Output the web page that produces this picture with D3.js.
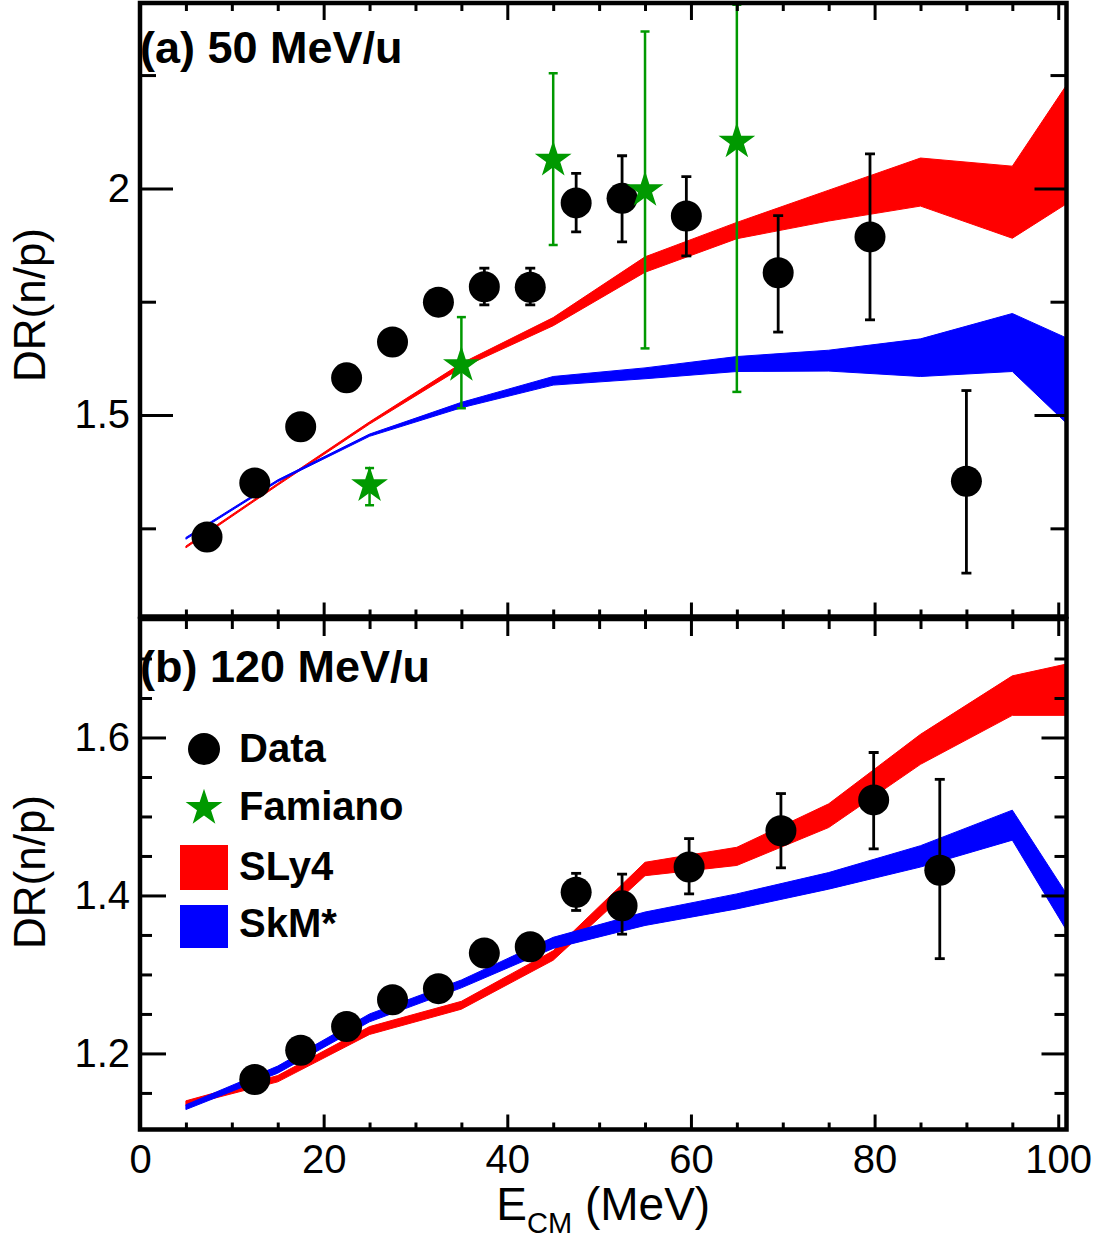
<!DOCTYPE html>
<html><head><meta charset="utf-8">
<script src="https://cdn.jsdelivr.net/npm/d3@7"></script>
<style>
body{margin:0;background:#fff;}
svg{display:block;font-family:"Liberation Sans",Arial,Helvetica,sans-serif;}
</style></head><body>
<svg id="chart" width="1104" height="1239"></svg>
<script>
// ---------- tick values ----------
const xMajorTicks = [0, 20, 40, 60, 80, 100];
const xMinorTicks = [5, 10, 15, 25, 30, 35, 45, 50, 55, 65, 70, 75, 85, 90, 95];
const yMajorTicksA = [1.5, 2];
const yMinorTicksA = [1.25, 1.75, 2.25];
const yMajorTicksB = [1.2, 1.4, 1.6];
const yMinorTicksB = [1.15, 1.25, 1.3, 1.35, 1.45, 1.5, 1.55, 1.65, 1.7];

// ---------- panel (a) 50 MeV/u ----------
const dataA_E   = [7.3, 12.5, 17.5, 22.5, 27.5, 32.5, 37.5, 42.5, 47.5, 52.5, 59.5, 69.5, 79.5, 90];
const dataA_DR  = [1.231, 1.350, 1.474, 1.582, 1.661, 1.749, 1.783, 1.782, 1.968, 1.978, 1.939, 1.814, 1.893, 1.354];
const dataA_lo  = [null, null, null, null, null, null, 1.743, 1.743, 1.904, 1.882, 1.851, 1.683, 1.710, 1.151];
const dataA_hi  = [null, null, null, null, null, null, 1.824, 1.824, 2.033, 2.072, 2.026, 1.940, 2.076, 1.554];

const famA_E  = [25, 35, 45, 55, 65];
const famA_DR = [1.345, 1.610, 2.063, 1.996, 2.103];
const famA_lo = [1.301, 1.515, 1.875, 1.647, 1.551];
const famA_hi = [1.383, 1.716, 2.254, 2.346, 2.405];

const bandE = [5, 15, 25, 35, 45, 55, 65, 75, 85, 95, 100.9];
const sly4A_lo = [1.207, 1.345, 1.480, 1.604, 1.697, 1.815, 1.889, 1.928, 1.961, 1.890, 1.966];
const sly4A_hi = [1.211, 1.349, 1.485, 1.614, 1.715, 1.849, 1.925, 1.996, 2.067, 2.049, 2.228];
const skmA_lo  = [1.226, 1.353, 1.453, 1.516, 1.566, 1.580, 1.596, 1.597, 1.585, 1.596, 1.482];
const skmA_hi  = [1.230, 1.357, 1.458, 1.528, 1.585, 1.604, 1.629, 1.643, 1.668, 1.724, 1.670];

// ---------- panel (b) 120 MeV/u ----------
const dataB_E  = [12.5, 17.5, 22.5, 27.5, 32.5, 37.5, 42.5, 47.5, 52.5, 59.8, 69.8, 79.9, 87.1];
const dataB_DR = [1.167, 1.204, 1.234, 1.268, 1.282, 1.327, 1.335, 1.404, 1.387, 1.436, 1.482, 1.521, 1.432];
const dataB_lo = [null, null, null, null, null, null, 1.320, 1.381, 1.351, 1.402, 1.435, 1.459, 1.320];
const dataB_hi = [null, null, null, null, null, null, 1.351, 1.428, 1.427, 1.472, 1.529, 1.581, 1.547];

const sly4B_lo = [1.134, 1.164, 1.224, 1.256, 1.318, 1.425, 1.438, 1.486, 1.566, 1.628, 1.628];
const sly4B_hi = [1.140, 1.172, 1.234, 1.266, 1.330, 1.442, 1.461, 1.516, 1.604, 1.678, 1.693];
const skmB_lo  = [1.129, 1.175, 1.240, 1.283, 1.333, 1.362, 1.383, 1.408, 1.436, 1.470, 1.356];
const skmB_hi  = [1.135, 1.184, 1.250, 1.293, 1.347, 1.379, 1.402, 1.429, 1.463, 1.508, 1.402];

const legendLabels = ["Data", "Famiano", "SLy4", "SkM*"];

// ---------- styles ----------
const RED = "#ff0000", BLUE = "#0000ff", GREEN = "#009900", BLACK = "#000";
const FONT = '"Liberation Sans", Arial, Helvetica, sans-serif';

const svg = d3.select("#chart");
svg.append("rect").attr("width", 1104).attr("height", 1239).attr("fill", "#fff");

const X0 = 140, X1 = 1066.5;
const x = d3.scaleLinear().domain([0, 100.9]).range([X0, X1]);

const panels = [
  { id: "a", top: 3, bottom: 616.5, ydom: [1.0555, 2.409],
    yMaj: yMajorTicksA, yMin: yMinorTicksA, yLen: [33, 16], yLenR: [32, 16],
    xTopLen: [17, 8], xBotLen: [14, 7], showXLabels: false,
    data: [dataA_E, dataA_DR, dataA_lo, dataA_hi],
    fam: [famA_E, famA_DR, famA_lo, famA_hi],
    sly: [sly4A_lo, sly4A_hi], skm: [skmA_lo, skmA_hi],
    label: "(a) 50 MeV/u", labelY: 63, titleY: 305 },
  { id: "b", top: 619, bottom: 1129.5, ydom: [1.1037, 1.75],
    yMaj: yMajorTicksB, yMin: yMinorTicksB, yLen: [26, 12], yLenR: [25, 12],
    xTopLen: [17, 10], xBotLen: [15, 7], showXLabels: true,
    data: [dataB_E, dataB_DR, dataB_lo, dataB_hi],
    fam: null,
    sly: [sly4B_lo, sly4B_hi], skm: [skmB_lo, skmB_hi],
    label: "(b) 120 MeV/u", labelY: 682, titleY: 872 }
];

function styleAxis(g) {
  g.select(".domain").remove();
  g.selectAll(".tick line").attr("stroke", BLACK).attr("stroke-width", 3);
  g.selectAll(".tick text").attr("font-size", 40).attr("font-family", FONT).attr("fill", BLACK);
  return g;
}

const fmt = d3.format("~g");

panels.forEach(p => {
  const y = d3.scaleLinear().domain(p.ydom).range([p.bottom, p.top]);
  const g = svg.append("g");
  const clipId = "clip-" + p.id;
  svg.append("clipPath").attr("id", clipId).append("rect")
    .attr("x", X0).attr("y", p.top).attr("width", X1 - X0).attr("height", p.bottom - p.top);
  const plot = g.append("g").attr("clip-path", `url(#${clipId})`);

  // bands
  const area = d3.area().x(d => x(d.e)).y0(d => y(d.lo)).y1(d => y(d.hi));
  const slyData = bandE.map((e, i) => ({ e, lo: p.sly[0][i], hi: p.sly[1][i] }));
  const skmData = bandE.map((e, i) => ({ e, lo: p.skm[0][i], hi: p.skm[1][i] }));
  plot.append("path").datum(slyData).attr("d", area)
    .attr("fill", RED).attr("stroke", RED).attr("stroke-width", 1).attr("stroke-linejoin", "round");
  plot.append("path").datum(skmData).attr("d", area)
    .attr("fill", BLUE).attr("stroke", BLUE).attr("stroke-width", 1).attr("stroke-linejoin", "round");

  // data with error bars
  const pts = p.data[0].map((e, i) => ({ e, v: p.data[1][i], lo: p.data[2][i], hi: p.data[3][i] }));
  const eb = pts.filter(d => d.lo !== null);
  const ebG = plot.append("g").attr("stroke", BLACK).attr("stroke-width", 2.8);
  ebG.selectAll("line.v").data(eb).join("line")
    .attr("x1", d => x(d.e)).attr("x2", d => x(d.e)).attr("y1", d => y(d.lo)).attr("y2", d => y(d.hi));
  ebG.selectAll("line.t").data(eb).join("line")
    .attr("x1", d => x(d.e) - 5).attr("x2", d => x(d.e) + 5).attr("y1", d => y(d.hi)).attr("y2", d => y(d.hi));
  ebG.selectAll("line.b").data(eb).join("line")
    .attr("x1", d => x(d.e) - 5).attr("x2", d => x(d.e) + 5).attr("y1", d => y(d.lo)).attr("y2", d => y(d.lo));
  plot.append("g").selectAll("circle").data(pts).join("circle")
    .attr("cx", d => x(d.e)).attr("cy", d => y(d.v)).attr("r", 15.5).attr("fill", BLACK);

  // Famiano stars
  if (p.fam) {
    const fp = p.fam[0].map((e, i) => ({ e, v: p.fam[1][i], lo: p.fam[2][i], hi: p.fam[3][i] }));
    const fg = plot.append("g").attr("stroke", GREEN).attr("stroke-width", 2.5);
    fg.selectAll("line.v").data(fp).join("line")
      .attr("x1", d => x(d.e)).attr("x2", d => x(d.e)).attr("y1", d => y(d.lo)).attr("y2", d => y(d.hi));
    fg.selectAll("line.t").data(fp).join("line")
      .attr("x1", d => x(d.e) - 4.5).attr("x2", d => x(d.e) + 4.5).attr("y1", d => y(d.hi)).attr("y2", d => y(d.hi));
    fg.selectAll("line.b").data(fp).join("line")
      .attr("x1", d => x(d.e) - 4.5).attr("x2", d => x(d.e) + 4.5).attr("y1", d => y(d.lo)).attr("y2", d => y(d.lo));
    const star = d3.symbol().type(d3.symbolStar).size(420);
    plot.append("g").selectAll("path").data(fp).join("path")
      .attr("transform", d => `translate(${x(d.e)},${y(d.v)})`).attr("d", star).attr("fill", GREEN);
  }

  // axes: bottom
  styleAxis(g.append("g").attr("transform", `translate(0,${p.bottom})`)
    .call(d3.axisBottom(x).tickValues(xMinorTicks).tickSize(-p.xBotLen[1]).tickFormat("")));
  const bx = g.append("g").attr("transform", `translate(0,${p.bottom})`)
    .call(d3.axisBottom(x).tickValues(xMajorTicks).tickSize(-p.xBotLen[0]).tickPadding(15)
      .tickFormat(p.showXLabels ? fmt : ""));
  styleAxis(bx);
  // top
  styleAxis(g.append("g").attr("transform", `translate(0,${p.top})`)
    .call(d3.axisTop(x).tickValues(xMinorTicks).tickSize(-p.xTopLen[1]).tickFormat("")));
  styleAxis(g.append("g").attr("transform", `translate(0,${p.top})`)
    .call(d3.axisTop(x).tickValues(xMajorTicks).tickSize(-p.xTopLen[0]).tickFormat("")));
  // left
  styleAxis(g.append("g").attr("transform", `translate(${X0},0)`)
    .call(d3.axisLeft(y).tickValues(p.yMin).tickSize(-p.yLen[1]).tickFormat("")));
  styleAxis(g.append("g").attr("transform", `translate(${X0},0)`)
    .call(d3.axisLeft(y).tickValues(p.yMaj).tickSize(-p.yLen[0]).tickPadding(10).tickFormat(fmt)));
  // right
  styleAxis(g.append("g").attr("transform", `translate(${X1},0)`)
    .call(d3.axisRight(y).tickValues(p.yMin).tickSize(-p.yLenR[1]).tickFormat("")));
  styleAxis(g.append("g").attr("transform", `translate(${X1},0)`)
    .call(d3.axisRight(y).tickValues(p.yMaj).tickSize(-p.yLenR[0]).tickFormat("")));

  // frame
  g.append("rect").attr("x", X0).attr("y", p.top).attr("width", X1 - X0).attr("height", p.bottom - p.top)
    .attr("fill", "none").attr("stroke", BLACK).attr("stroke-width", 4.5);

  // panel label
  g.append("text").attr("x", X0).attr("y", p.labelY).attr("font-size", 45).attr("font-weight", "bold")
    .attr("font-family", FONT).attr("fill", BLACK).text(p.label);

  // y title
  g.append("text").attr("transform", `translate(45,${p.titleY}) rotate(-90)`)
    .attr("text-anchor", "middle").attr("font-size", 44).attr("font-family", FONT).attr("fill", BLACK)
    .text("DR(n/p)");
});

// x title
const xt = svg.append("text").attr("x", (X0 + X1) / 2).attr("y", 1220).attr("text-anchor", "middle")
  .attr("font-size", 46).attr("font-family", FONT).attr("fill", BLACK);
xt.append("tspan").text("E");
xt.append("tspan").attr("font-size", 29).attr("dy", 13).text("CM");
xt.append("tspan").attr("dy", -13).text(" (MeV)");

// legend
const lg = svg.append("g");
const lgItems = [
  { t: legendLabels[0], y: 762 },
  { t: legendLabels[1], y: 820 },
  { t: legendLabels[2], y: 880 },
  { t: legendLabels[3], y: 937 }
];
lg.append("circle").attr("cx", 204).attr("cy", 749).attr("r", 16).attr("fill", BLACK);
lg.append("path").attr("transform", "translate(204,808)")
  .attr("d", d3.symbol().type(d3.symbolStar).size(420)()).attr("fill", GREEN);
lg.append("rect").attr("x", 180).attr("y", 845).attr("width", 48).attr("height", 45).attr("fill", RED);
lg.append("rect").attr("x", 180).attr("y", 905).attr("width", 48).attr("height", 43).attr("fill", BLUE);
lg.selectAll("text").data(lgItems).join("text")
  .attr("x", 239).attr("y", d => d.y).attr("font-size", 40).attr("font-weight", "bold")
  .attr("font-family", FONT).attr("fill", BLACK).text(d => d.t);
</script>
</body></html>
